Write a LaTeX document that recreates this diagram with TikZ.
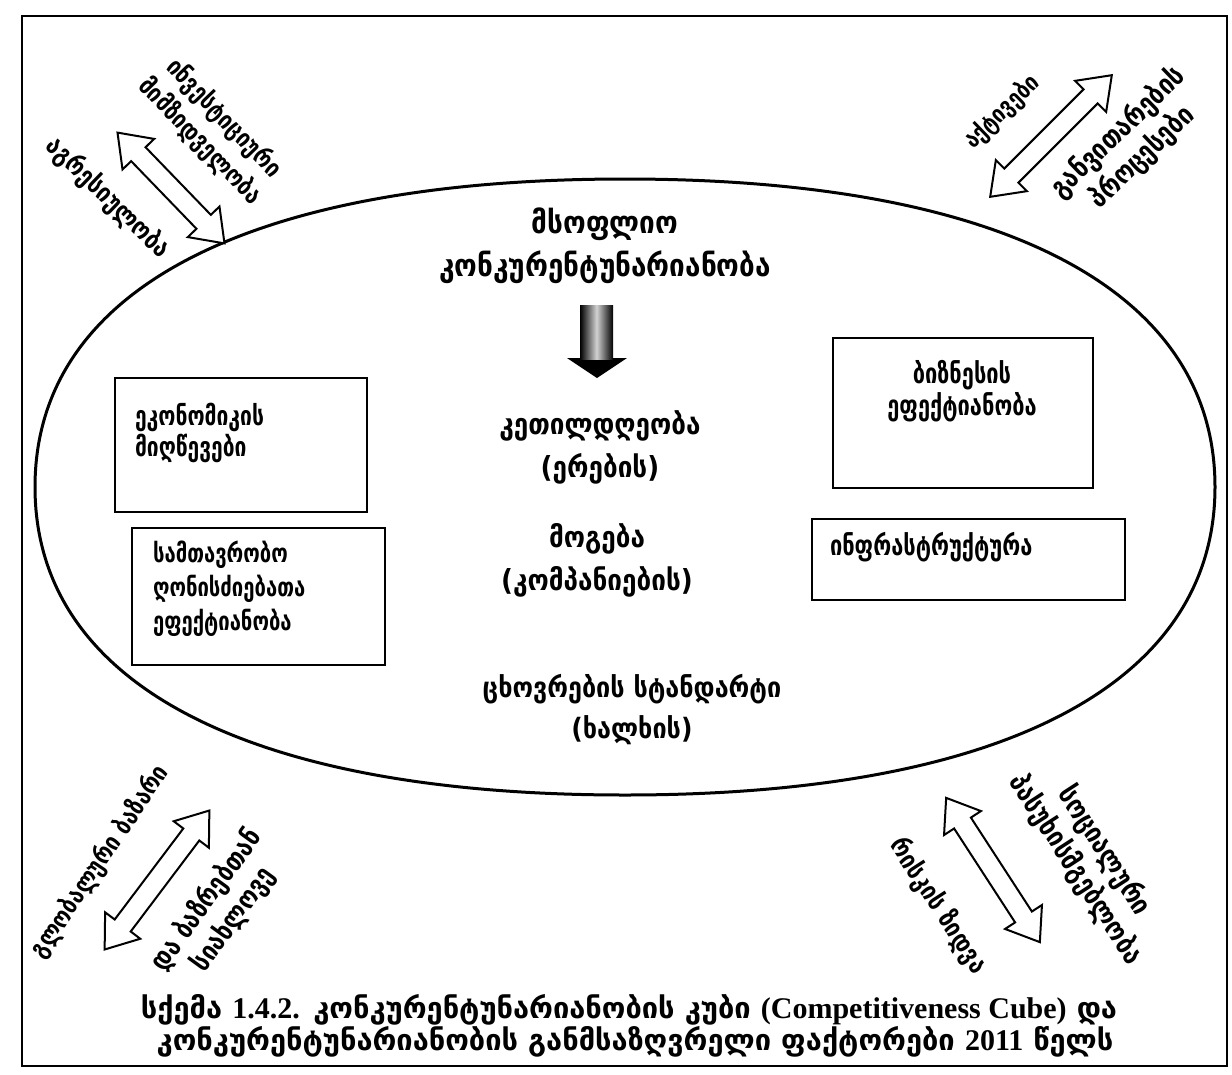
\documentclass[tikz,border=0pt]{standalone}
\usepackage{fontspec}
\setmainfont{DejaVu Sans}
\newfontfamily\geo[FakeStretch=0.9]{DejaVu Sans Bold}
\newfontfamily\geoc[FakeStretch=0.78]{DejaVu Sans Bold}
\newfontfamily\geor[FakeStretch=0.85]{DejaVu Sans Bold}
\newfontfamily\geocap{DejaVu Sans Bold}
\newfontfamily\lat{Liberation Serif Bold}
\tikzset{
  every node/.style={inner sep=0pt, outer sep=0pt},
  frameline/.style={line width=2pt},
  ovalline/.style={line width=3pt},
  fbox/.style={draw, line width=2.6pt, anchor=north west},
  ctext/.style={font=\geo\fontsize{29}{43}\selectfont, align=center},
  btext/.style={font=\geoc\fontsize{#1}{32}\selectfont, align=left},
  btext/.default=26,
  rtext/.style={font=\geor\fontsize{#1}{#1}\selectfont, align=center},
  rtext/.default=26,
  captext/.style={font=\geocap\fontsize{29}{32}\selectfont, align=center},
  hollow/.style={draw, line width=2pt, fill=white, line join=miter},
  pics/dblarrow/.style={code={
    \draw[hollow] (-#1,0) -- (-#1+30,22) -- (-#1+30,10) -- (#1-30,10) -- (#1-30,22) -- (#1,0)
      -- (#1-30,-22) -- (#1-30,-10) -- (-#1+30,-10) -- (-#1+30,-22) -- cycle;
  }},
}
\newcommand\capl[1]{{\lat\fontsize{30}{32}\selectfont #1}}
\begin{document}
\begin{tikzpicture}[x=1pt,y=-1pt]
\useasboundingbox (0,0) rectangle (1232,1074);
\fill[white] (0,0) rectangle (1232,1074);
% frame
\draw[frameline] (22,16) rectangle (1227,1066);
% oval
\draw[ovalline] (1215,487) .. controls (1215,684.1) and (1002.6,795) .. (625,795)
  .. controls (247.4,795) and (35,684.1) .. (35,487)
  .. controls (35,289.9) and (247.4,179) .. (625,179)
  .. controls (1002.6,179) and (1215,289.9) .. (1215,487) -- cycle;
% centre texts
\node[ctext, font=\geo\fontsize{31}{43}\selectfont] (world) at (605,246) {მსოფლიო\\კონკურენტუნარიანობა};
\node[ctext] (welfare) at (600,447) {კეთილდღეობა\\(ერების)};
\node[ctext] (profit) at (597,560) {მოგება\\(კომპანიების)};
\node[ctext, font=\geo\fontsize{28}{41}\selectfont] (living) at (632,710) {ცხოვრების სტანდარტი\\(ხალხის)};
% centre arrow
\coordinate (arrtop) at (596.5,305);
\fill (567,358) -- (627,358) -- (597,378) -- cycle;
\shade[left color=black, right color=black, middle color=gray!35] (580,305) rectangle (613,359);
% boxes
\node[fbox, minimum width=252pt, minimum height=134pt] (econ) at (115,378) {};
\node[btext, anchor=west, font=\geoc\fontsize{27}{31}\selectfont] (econT) at (135,433) {ეკონომიკის\\მიღწევები};
\node[fbox, minimum width=253pt, minimum height=137pt] (gov) at (132,528) {};
\node[btext, anchor=west, font=\geoc\fontsize{26}{34}\selectfont] (govT) at (153,589) {სამთავრობო\\ღონისძიებათა\\ეფექტიანობა};
\node[fbox, minimum width=260pt, minimum height=150pt] (bus) at (833,338) {};
\node[btext=28, align=center] (busT) at (962,391) {ბიზნესის\\ეფექტიანობა};
\node[fbox, minimum width=313pt, minimum height=81pt] (infra) at (812,519) {};
\node[btext=28, anchor=west] (infraT) at (830,547) {ინფრასტრუქტურა};
% corner arrows
\pic[rotate=-46] at (171,188) {dblarrow=77};
\pic[rotate=45] at (1051,136) {dblarrow=86};
\pic[rotate=53] at (157,880) {dblarrow=87};
\pic[rotate=-57] at (993,870) {dblarrow=86};
% corner texts
\node[rtext=26, rotate=-44] (tl1) at (108,198) {აგრესიულობა};
\node[rtext, rotate=-46, font=\geor\fontsize{25}{33}\selectfont] (tl2) at (212,130) {ინვესტიციური\\მიმზიდველობა};
\node[rtext=24, rotate=44] (tr1) at (1002,112) {აქტივები};
\node[rtext, rotate=44, font=\geor\fontsize{28}{34}\selectfont] (tr2) at (1130,145) {განვითარების\\პროცესები};
\node[rtext=25, rotate=56] (bl1) at (100,862) {გლობალური ბაზარი};
\node[rtext, rotate=54, font=\geor\fontsize{27}{33}\selectfont] (bl2) at (220,910) {და ბაზრებთან\\სიახლოვე};
\node[rtext=26, rotate=-57] (br1) at (938,906) {რისკის ზიდვა};
\node[rtext, rotate=-57, font=\geor\fontsize{28}{34}\selectfont] (br2) at (1090,860) {სოციალური\\პასუხისმგებლობა};
% caption
\node[captext] (cap1) at (629,1010) {სქემა \capl{1.4.2.} კონკურენტუნარიანობის კუბი \capl{(Competitiveness Cube)} და};
\node[captext] (cap2) at (635,1042) {კონკურენტუნარიანობის განმსაზღვრელი ფაქტორები \capl{2011} წელს};
\end{tikzpicture}
\end{document}
